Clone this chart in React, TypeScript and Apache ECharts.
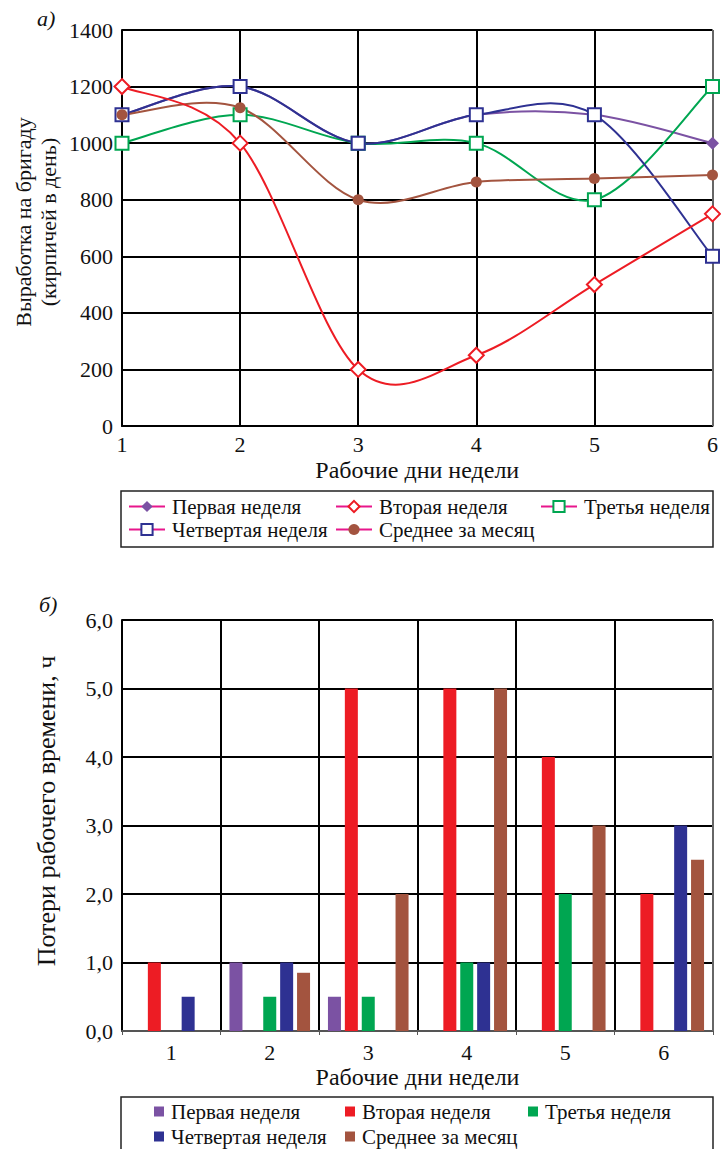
import React, { useEffect, useRef } from "react";
import * as echarts from "echarts";

const days = ["1", "2", "3", "4", "5", "6"];

const lineNames = ["Первая неделя", "Вторая неделя", "Третья неделя", "Четвертая неделя", "Среднее за месяц"];
const out1 = [1100, 1200, 1000, 1100, 1100, 1000];
const out2 = [1200, 1000, 200, 250, 500, 750];
const out3 = [1000, 1100, 1000, 1000, 800, 1200];
const out4 = [1100, 1200, 1000, 1100, 1100, 600];
const outAvg = [1100, 1125, 800, 862.5, 875, 887.5];

const barNames = ["b1", "b2", "b3", "b4", "b5"];
const loss1 = [0, 1, 0.5, 0, 0, 0];
const loss2 = [1, 0, 5, 5, 4, 2];
const loss3 = [0, 0.5, 0.5, 1, 2, 0];
const loss4 = [0.5, 1, 0, 1, 0, 3];
const lossAvg = [0, 0.85, 2, 5, 3, 2.5];

const xTitle = "Рабочие дни недели";
const topYName = "Выработка на бригаду\n(кирпичей в день)";
const botYName = "Потери рабочего времени, ч";

const C_PURPLE = "#7b52a3";
const C_RED = "#ed1c24";
const C_GREEN = "#00a651";
const C_BLUE = "#2e3192";
const C_BROWN = "#a3543f";
const C_PINK = "#e8168c";

const FONT = "Liberation Serif";

export default function App() {
  const ref = useRef<HTMLDivElement>(null);
  useEffect(() => {
    document.body.style.margin = "0";
    const chart = echarts.init(ref.current!, null, { renderer: "svg" });
    const txt = { fontFamily: FONT, fontSize: 22, color: "#111" };
    const nameTxt = { fontFamily: FONT, fontSize: 24, color: "#111" };

    const markerSeries = (name: string, data: number[], color: string, symbol: string, size: number, filled: boolean) => ({
      type: "line",
      name,
      data,
      xAxisIndex: 0,
      yAxisIndex: 0,
      symbol,
      symbolSize: size,
      showSymbol: true,
      lineStyle: { color, width: 2, opacity: 0 },
      itemStyle: filled
        ? { color, borderColor: color, borderWidth: 0 }
        : { color: "#fff", borderColor: color, borderWidth: 2 },
      z: 4,
    });

    const curveSeries = (arr: number[], color: string) => ({
      type: "custom",
      xAxisIndex: 0,
      yAxisIndex: 0,
      silent: true,
      z: 3,
      data: arr.slice(0, -1).map((v, i) => [i, v]),
      renderItem: (params: any, api: any) => {
        const i = params.dataIndex;
        const n = arr.length;
        const P = (j: number) => {
          const c = Math.max(0, Math.min(n - 1, j));
          return api.coord([c, arr[c]]);
        };
        const p0 = P(i - 1), p1 = P(i), p2 = P(i + 1), p3 = P(i + 2);
        const k = 1 / 6;
        return {
          type: "bezierCurve",
          shape: {
            x1: p1[0], y1: p1[1], x2: p2[0], y2: p2[1],
            cpx1: p1[0] + (p2[0] - p0[0]) * k, cpy1: p1[1] + (p2[1] - p0[1]) * k,
            cpx2: p2[0] - (p3[0] - p1[0]) * k, cpy2: p2[1] - (p3[1] - p1[1]) * k,
          },
          style: { stroke: color, lineWidth: 2, fill: "none" },
        };
      },
    });

    const barSeries = (name: string, data: number[], color: string) => ({
      type: "bar",
      name,
      data,
      xAxisIndex: 1,
      yAxisIndex: 1,
      barWidth: 13,
      barGap: "30%",
      itemStyle: { color },
      z: 3,
    });

    const topLegend = (left: number, data: string[]) => ({
      left, top: 496, height: 52, padding: 0, orient: "vertical", itemGap: 2, itemWidth: 36, itemHeight: 14,
      data, textStyle: { fontFamily: FONT, fontSize: 21, color: "#111", lineHeight: 21, padding: [0, 0, 0, 2] },
      lineStyle: { color: C_PINK, width: 2, opacity: 1 },
    });
    const botLegend = (left: number, data: string[]) => ({
      left, top: 1101, height: 52, padding: 0, orient: "vertical", itemGap: 4, itemWidth: 10, itemHeight: 10, icon: "rect",
      data,
      formatter: (nm: string) => lineNames[barNames.indexOf(nm)],
      textStyle: { fontFamily: FONT, fontSize: 21, color: "#111", lineHeight: 21, padding: [0, 0, 0, 2] },
    });

    chart.setOption({
      animation: false,
      textStyle: { fontFamily: FONT },
      grid: [
        { left: 122, right: 8, top: 30, height: 396 },
        { left: 122, right: 8, top: 620, height: 411 },
      ],
      xAxis: [
        {
          gridIndex: 0,
          type: "category",
          data: days,
          boundaryGap: false,
          name: xTitle,
          nameLocation: "middle",
          nameGap: 32,
          nameTextStyle: nameTxt,
          axisLine: { lineStyle: { color: "#000", width: 2 } },
          axisTick: { show: false },
          axisLabel: { ...txt, margin: 7 },
          splitLine: { show: true, lineStyle: { color: "#000", width: 2 } },
        },
        {
          gridIndex: 1,
          type: "category",
          data: days,
          boundaryGap: true,
          name: xTitle,
          nameLocation: "middle",
          nameGap: 34,
          nameTextStyle: nameTxt,
          axisLine: { lineStyle: { color: "#555", width: 2 } },
          axisTick: { show: true, length: 4, lineStyle: { color: "#555" } },
          axisLabel: { ...txt, margin: 10 },
          splitLine: { show: true, lineStyle: { color: "#000", width: 2 } },
        },
      ],
      yAxis: [
        {
          gridIndex: 0,
          type: "value",
          min: 0,
          max: 1400,
          interval: 200,
          axisLine: { show: true, lineStyle: { color: "#000", width: 2 } },
          axisTick: { show: false },
          axisLabel: { ...txt, margin: 9, formatter: (v: number) => String(v) },
          splitLine: { show: true, lineStyle: { color: "#000", width: 2 } },
        },
        {
          gridIndex: 1,
          type: "value",
          min: 0,
          max: 6,
          interval: 1,
          axisLine: { show: true, lineStyle: { color: "#000", width: 2 } },
          axisTick: { show: false },
          axisLabel: { ...txt, margin: 9, formatter: (v: number) => v.toFixed(1).replace(".", ",") },
          splitLine: { show: true, lineStyle: { color: "#000", width: 2 } },
        },
      ],
      legend: [
        topLegend(128, [lineNames[0], lineNames[3]]),
        topLegend(335, [lineNames[1], lineNames[4]]),
        topLegend(540, [lineNames[2]]),
        botLegend(154, [barNames[0], barNames[3]]),
        botLegend(345, [barNames[1], barNames[4]]),
        botLegend(528, [barNames[2]]),
      ],
      graphic: [
        { type: "rect", shape: { x: 121, y: 491, width: 592, height: 56 }, style: { fill: "none", stroke: "#222", lineWidth: 1.5 }, z: -1 },
        { type: "rect", shape: { x: 121, y: 1097, width: 592, height: 60 }, style: { fill: "none", stroke: "#222", lineWidth: 1.5 }, z: -1 },
        { type: "line", shape: { x1: 713, y1: 30, x2: 713, y2: 426 }, style: { stroke: "#666", lineWidth: 2 }, z: 2 },
        { type: "line", shape: { x1: 713, y1: 620, x2: 713, y2: 1031 }, style: { stroke: "#666", lineWidth: 2 }, z: 2 },
        { type: "text", x: 37, y: 7, style: { text: "а)", font: `italic 22px "${FONT}"`, fill: "#111" } },
        { type: "text", x: 39, y: 593, style: { text: "б)", font: `italic 22px "${FONT}"`, fill: "#111" } },
        {
          type: "text", x: 36, y: 222, rotation: Math.PI / 2,
          style: { text: topYName, font: `22px "${FONT}"`, fill: "#111", align: "center", verticalAlign: "middle", lineHeight: 25 },
        },
        {
          type: "text", x: 46, y: 811, rotation: Math.PI / 2,
          style: { text: botYName, font: `26px "${FONT}"`, fill: "#111", align: "center", verticalAlign: "middle" },
        },
      ],
      series: [
        curveSeries(out1, C_PURPLE),
        curveSeries(out3, C_GREEN),
        curveSeries(out4, C_BLUE),
        curveSeries(outAvg, C_BROWN),
        curveSeries(out2, C_RED),
        markerSeries(lineNames[0], out1, C_PURPLE, "diamond", 13, true),
        markerSeries(lineNames[1], out2, C_RED, "diamond", 15, false),
        markerSeries(lineNames[2], out3, C_GREEN, "rect", 13, false),
        markerSeries(lineNames[3], out4, C_BLUE, "rect", 13, false),
        markerSeries(lineNames[4], outAvg, C_BROWN, "circle", 11, true),
        barSeries(barNames[0], loss1, C_PURPLE),
        barSeries(barNames[1], loss2, C_RED),
        barSeries(barNames[2], loss3, C_GREEN),
        barSeries(barNames[3], loss4, C_BLUE),
        barSeries(barNames[4], lossAvg, C_BROWN),
      ],
    });
    return () => chart.dispose();
  }, []);
  return <div ref={ref} style={{ width: 721, height: 1149 }} />;
}
